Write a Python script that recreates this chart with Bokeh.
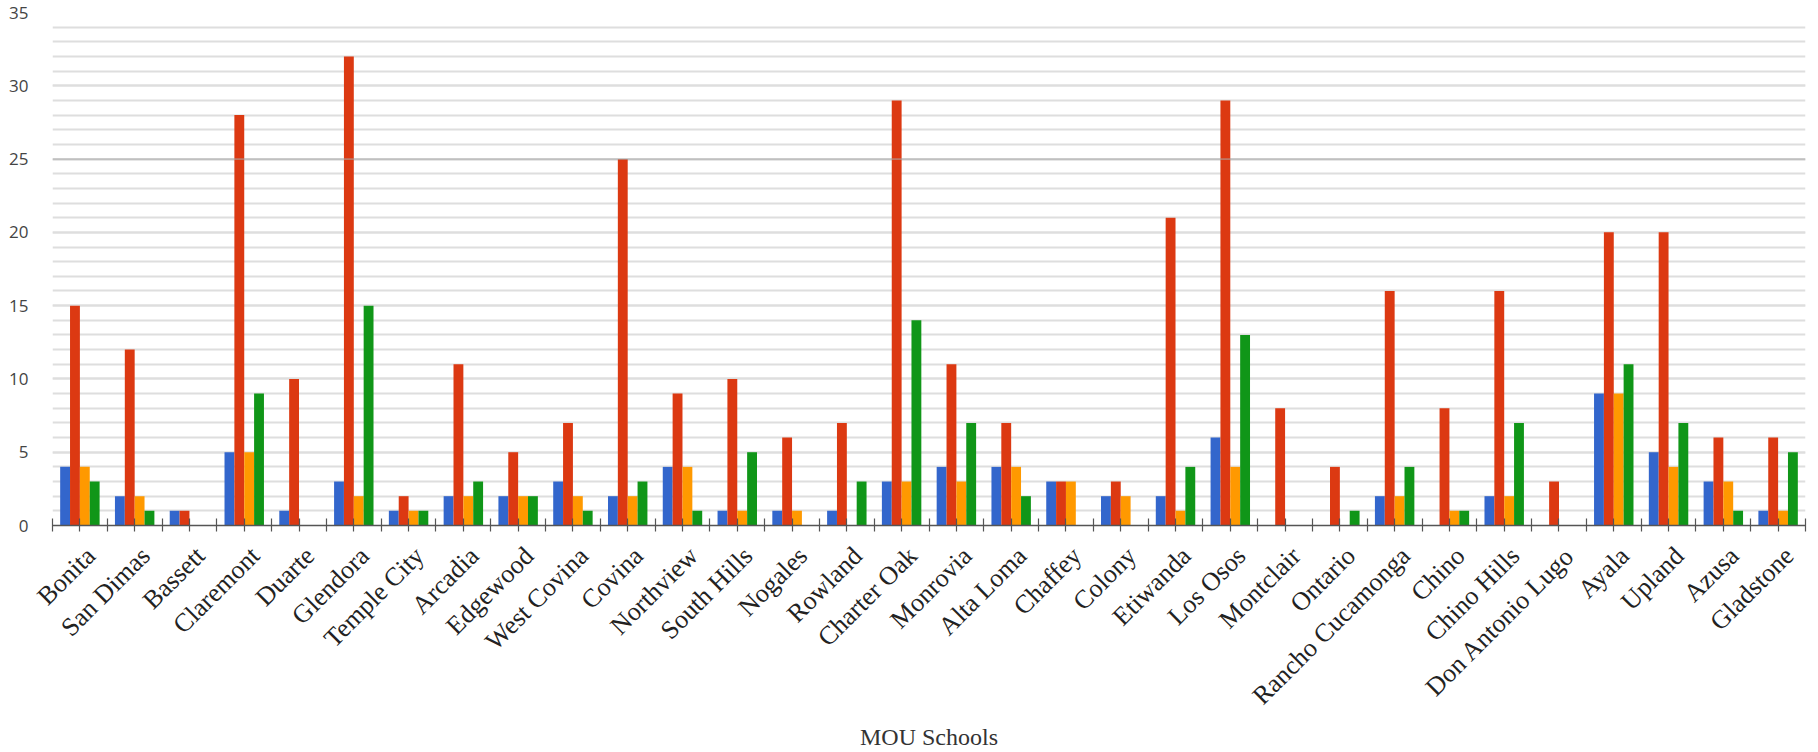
import math
from bokeh.plotting import figure
from bokeh.models import (ColumnDataSource, Range1d, FixedTicker, CustomJSTickFormatter,
                          SingleIntervalTicker, Span, LinearAxis)
from bokeh.transform import dodge
from bokeh.embed import file_html
from bokeh.resources import INLINE

schools = ["Bonita", "San Dimas", "Bassett", "Claremont", "Duarte", "Glendora", "Temple City",
           "Arcadia", "Edgewood", "West Covina", "Covina", "Northview", "South Hills", "Nogales",
           "Rowland", "Charter Oak", "Monrovia", "Alta Loma", "Chaffey", "Colony", "Etiwanda",
           "Los Osos", "Montclair", "Ontario", "Rancho Cucamonga", "Chino", "Chino Hills",
           "Don Antonio Lugo", "Ayala", "Upland", "Azusa", "Gladstone"]
series_blue = [4, 2, 1, 5, 1, 3, 1, 2, 2, 3, 2, 4, 1, 1, 1, 3, 4, 4, 3, 2, 2, 6, 0, 0, 2, 0, 2, 0, 9, 5, 3, 1]
series_red = [15, 12, 1, 28, 10, 32, 2, 11, 5, 7, 25, 9, 10, 6, 7, 29, 11, 7, 3, 3, 21, 29, 8, 4, 16, 8, 16, 3, 20, 20, 6, 6]
series_orange = [4, 2, 0, 5, 0, 2, 1, 2, 2, 2, 2, 4, 1, 1, 0, 3, 3, 4, 3, 2, 1, 4, 0, 0, 2, 1, 2, 0, 9, 4, 3, 1]
series_green = [3, 1, 0, 9, 0, 15, 1, 3, 2, 1, 3, 1, 5, 0, 3, 14, 7, 2, 0, 0, 4, 13, 0, 1, 4, 1, 7, 0, 11, 7, 1, 5]
y_ticks = [0, 5, 10, 15, 20, 25, 30, 35]

colors = ["#3366cc", "#dc3912", "#ff9900", "#109618"]

n = len(schools)
src = ColumnDataSource(dict(
    x=[i + 0.5 for i in range(n)],
    blue=series_blue, red=series_red, orange=series_orange, green=series_green,
))

p = figure(width=1818, height=752, x_range=Range1d(0, n), y_range=Range1d(0, 35),
           output_backend="svg", toolbar_location=None, x_axis_location=None,
           min_border_left=52, min_border_right=13, min_border_top=12, min_border_bottom=223)
p.outline_line_color = None
p.background_fill_color = "white"
p.border_fill_color = "white"

# grid
yt = SingleIntervalTicker(interval=5, num_minor_ticks=5)
p.yaxis.ticker = yt
p.ygrid.ticker = yt
p.ygrid.grid_line_color = "#dedede"
p.ygrid.grid_line_width = 2
p.ygrid.minor_grid_line_color = "#dedede"
p.ygrid.minor_grid_line_width = 2
p.xgrid.grid_line_color = None
p.add_layout(Span(location=25, dimension="width", line_color="#a8a8a8", line_width=1))

bw = 0.18
offs = [-0.27, -0.09, 0.09, 0.27]
for key, c, o in zip(["blue", "red", "orange", "green"], colors, offs):
    p.vbar(x=dodge("x", o, range=p.x_range), top=key, width=bw, bottom=0, source=src,
           fill_color=c, line_color=None)

# y axis
p.yaxis.axis_line_color = None
p.yaxis.major_tick_line_color = None
p.yaxis.minor_tick_line_color = None
p.yaxis.major_label_text_font = "Open Sans"
p.yaxis.major_label_text_font_size = "17px"
p.yaxis.major_label_text_color = "#444444"
p.yaxis.major_label_standoff = 18

# x axis line with ticks at group centers and boundaries
tick_axis = LinearAxis(ticker=FixedTicker(ticks=[i * 0.5 for i in range(2 * n + 1)]),
                       formatter=CustomJSTickFormatter(code='return "";'))
tick_axis.axis_line_color = "#555555"
tick_axis.axis_line_width = 1.5
tick_axis.major_tick_line_color = "#555555"
tick_axis.major_tick_line_width = 1.2
tick_axis.major_tick_in = 7
tick_axis.major_tick_out = 6
tick_axis.minor_tick_line_color = None
tick_axis.major_label_text_font_size = "0px"
tick_axis.major_label_standoff = 0
p.add_layout(tick_axis, "below")

# school names, rotated
label_axis = LinearAxis(ticker=FixedTicker(ticks=[i + 0.7 for i in range(n)]),
                        formatter=CustomJSTickFormatter(args=dict(names=schools), code="""
    const i = Math.floor(tick);
    return (i >= 0 && i < names.length) ? names[i] : "";
"""))
label_axis.axis_line_color = None
label_axis.major_tick_line_color = None
label_axis.minor_tick_line_color = None
label_axis.major_tick_in = 0
label_axis.major_tick_out = 0
label_axis.major_label_orientation = math.pi / 4
label_axis.major_label_text_font = "Liberation Serif"
label_axis.major_label_text_font_size = "26px"
label_axis.major_label_text_color = "#222222"
label_axis.major_label_standoff = 20
label_axis.axis_label = "MOU Schools"
label_axis.axis_label_text_font = "Liberation Serif"
label_axis.axis_label_text_font_size = "24px"
label_axis.axis_label_text_font_style = "normal"
label_axis.axis_label_text_color = "#333333"
label_axis.axis_label_standoff = 0
p.add_layout(label_axis, "below")

open("out.html", "w").write(file_html(p, INLINE))
